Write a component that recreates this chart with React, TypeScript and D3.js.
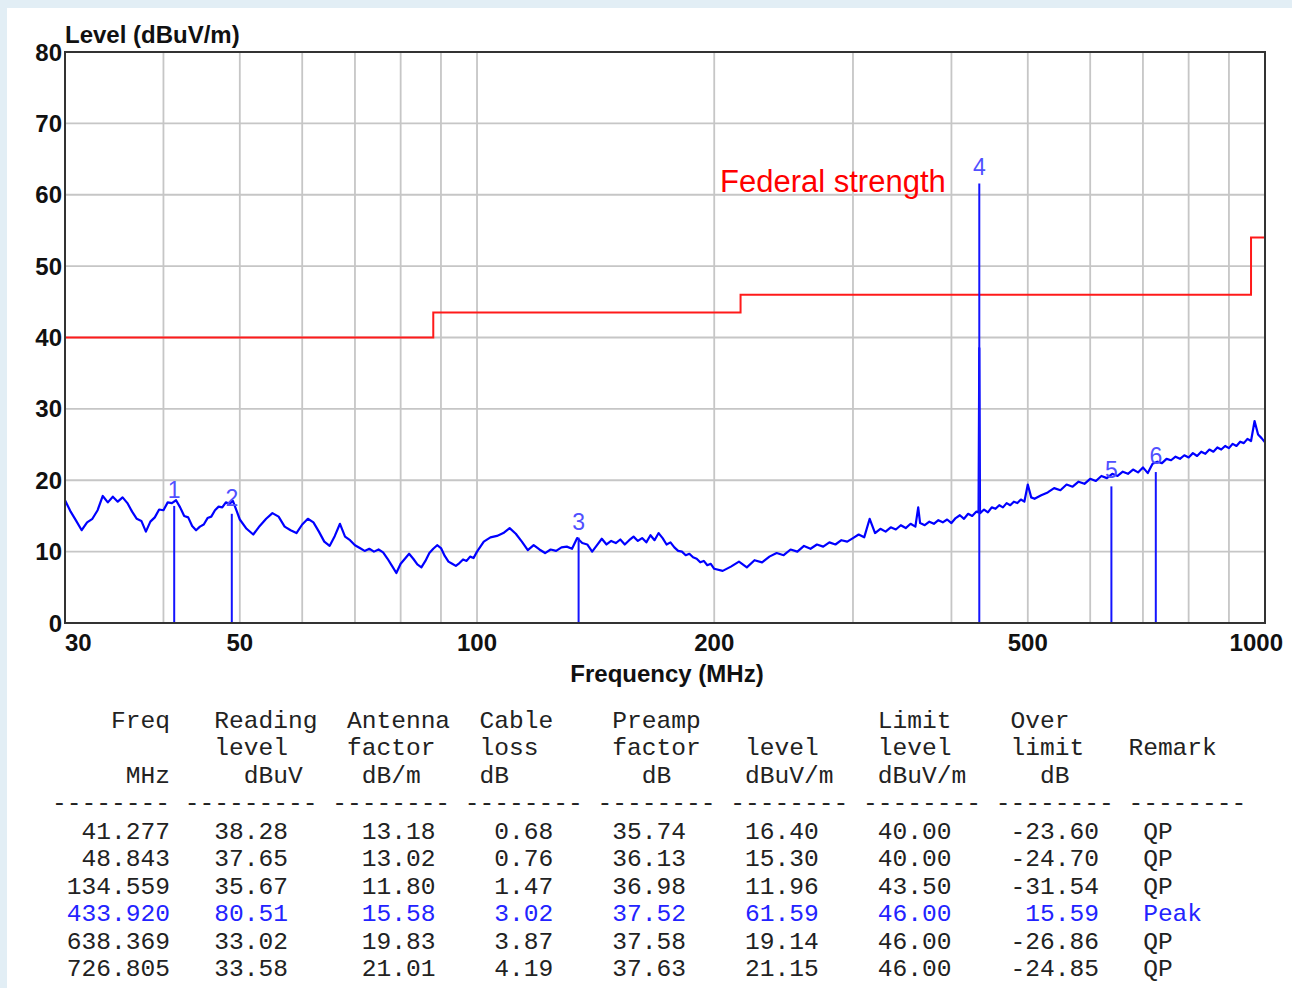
import * as d3 from 'd3';

// spectrum trace: [MHz, dBuV/m]
const trace: [number, number][] = [
  [30, 17.2], [30.5, 15.6], [31, 14.3], [31.5, 13.0], [32, 14.1], [32.5, 14.6], [33, 15.8], [33.5, 17.8],
  [34, 16.9], [34.5, 17.7], [35, 17.0], [35.5, 17.6], [36, 16.8], [36.5, 15.6], [37, 14.6], [37.5, 14.3],
  [38, 12.8], [38.5, 14.2], [39, 14.8], [39.5, 15.9], [40, 15.8], [40.5, 16.9], [41, 16.8], [41.5, 17.2],
  [42, 16.2], [42.5, 15.0], [43, 14.8], [43.5, 13.6], [44, 13.0], [44.5, 13.5], [45, 13.8], [45.5, 14.7],
  [46, 14.9], [46.5, 15.8], [47, 16.3], [47.5, 16.2], [48, 16.9], [48.5, 16.7], [49, 17.1], [49.5, 15.8],
  [50, 14.5], [51, 13.2], [52, 12.4], [53, 13.6], [54, 14.6], [55, 15.4], [56, 14.9], [57, 13.5],
  [58, 13.0], [59, 12.6], [60, 13.8], [61, 14.6], [62, 14.1], [63, 12.8], [64, 11.4], [65, 10.8],
  [66, 12.2], [67, 13.9], [68, 12.1], [69, 11.6], [70, 10.9], [71, 10.5], [72, 10.1], [73, 10.4],
  [74, 10.0], [75, 10.3], [76, 9.9], [77, 9.0], [78, 8.0], [79, 7.0], [80, 8.3], [81, 9.0],
  [82, 9.7], [83, 9.0], [84, 8.2], [85, 7.8], [86, 8.7], [87, 9.8], [88, 10.4], [89, 10.9],
  [90, 10.5], [91, 9.4], [92, 8.6], [93, 8.3], [94, 8.0], [95, 8.4], [96, 8.9], [97, 8.7],
  [98, 9.3], [99, 9.1], [100, 10.0], [102, 11.4], [104, 12.0], [106, 12.2], [108, 12.6], [110, 13.3],
  [112, 12.5], [114, 11.4], [116, 10.2], [118, 10.9], [120, 10.3], [122, 9.8], [124, 10.3], [126, 10.1],
  [128, 10.6], [130, 10.7], [132, 10.4], [134, 11.9], [136, 11.2], [138, 11.0], [140, 10.0], [142, 10.9],
  [144, 11.8], [146, 11.0], [148, 11.5], [150, 11.2], [152, 11.7], [154, 11.0], [156, 11.6], [158, 12.1],
  [160, 11.5], [162, 11.9], [164, 11.3], [166, 12.3], [168, 11.6], [170, 12.6], [172, 11.9], [174, 11.0],
  [176, 11.3], [178, 10.6], [180, 10.1], [182, 10.0], [184, 9.5], [186, 9.7], [188, 9.2], [190, 9.0],
  [192, 8.5], [194, 8.7], [196, 8.1], [198, 8.3], [200, 7.6], [205, 7.3], [210, 7.9], [215, 8.6],
  [220, 7.8], [225, 8.8], [230, 8.5], [235, 9.3], [240, 9.8], [245, 9.5], [250, 10.3], [255, 10.0],
  [260, 10.8], [265, 10.4], [270, 11.0], [275, 10.7], [280, 11.3], [285, 11.0], [290, 11.6], [295, 11.4],
  [300, 11.9], [305, 12.4], [310, 12.0], [315, 14.6], [320, 12.6], [325, 13.2], [330, 12.8], [335, 13.4],
  [340, 13.1], [345, 13.7], [350, 13.3], [355, 13.9], [360, 13.5], [363, 16.2], [365, 14.0], [370, 13.7],
  [375, 14.2], [380, 13.9], [385, 14.4], [390, 14.1], [395, 14.5], [400, 14.0], [405, 14.7], [410, 15.1],
  [415, 14.6], [420, 15.3], [425, 15.0], [430, 15.6], [433, 15.5], [433.92, 38.5], [434.8, 15.7], [435, 15.4],
  [440, 15.9], [445, 15.5], [450, 16.2], [455, 16.0], [460, 16.5], [465, 16.2], [470, 16.8], [475, 16.5],
  [480, 17.0], [485, 16.8], [490, 17.3], [495, 17.0], [500, 19.4], [505, 17.6], [510, 17.4], [520, 17.9],
  [530, 18.3], [540, 18.9], [550, 18.6], [560, 19.4], [570, 19.1], [580, 19.8], [590, 19.5], [600, 20.2],
  [610, 19.9], [620, 20.6], [630, 20.3], [640, 20.9], [650, 20.6], [660, 21.2], [670, 20.9], [680, 21.5],
  [690, 21.1], [700, 21.8], [710, 21.0], [720, 22.3], [730, 22.6], [740, 22.4], [750, 23.0], [760, 22.8],
  [770, 23.3], [780, 23.0], [790, 23.5], [800, 23.2], [810, 23.8], [820, 23.4], [830, 24.0], [840, 23.7],
  [850, 24.3], [860, 24.0], [870, 24.6], [880, 24.3], [890, 24.8], [900, 24.5], [910, 25.1], [920, 24.8],
  [930, 25.4], [940, 25.2], [950, 25.8], [960, 25.5], [970, 28.3], [980, 26.4], [990, 25.9], [1000, 25.3],
];

const limitMHz = [30, 88, 216, 960, 1000];
const limitDb = [40, 43.5, 46, 54, 54];

const markerNo = ['1', '2', '3', '4', '5', '6'];
const markerMHz = [41.277, 48.843, 134.559, 433.92, 638.369, 726.805];
const markerDb = [16.4, 15.3, 11.96, 61.59, 19.14, 21.15];

const xTickLabels = [30, 50, 100, 200, 500, 1000];
const xGrid = [40, 50, 60, 70, 80, 90, 100, 200, 300, 400, 500, 600, 700, 800, 900];
const yTicks = [0, 10, 20, 30, 40, 50, 60, 70, 80];

// table columns
const colFreq = ['41.277', '48.843', '134.559', '433.920', '638.369', '726.805'];
const colReading = ['38.28', '37.65', '35.67', '80.51', '33.02', '33.58'];
const colAntenna = ['13.18', '13.02', '11.80', '15.58', '19.83', '21.01'];
const colCable = ['0.68', '0.76', '1.47', '3.02', '3.87', '4.19'];
const colPreamp = ['35.74', '36.13', '36.98', '37.52', '37.58', '37.63'];
const colLevel = ['16.40', '15.30', '11.96', '61.59', '19.14', '21.15'];
const colLimit = ['40.00', '40.00', '43.50', '46.00', '46.00', '46.00'];
const colOver = ['-23.60', '-24.70', '-31.54', '15.59', '-26.86', '-24.85'];
const colRemark = ['QP', 'QP', 'QP', 'Peak', 'QP', 'QP'];
const highlightRow = 3;

const SANS = "'Liberation Sans', Arial, sans-serif";
const MONO = "'Liberation Mono', monospace";

type Cell = [string, number, 'l' | 'r'];

function layoutLine(cells: Cell[]) {
  const chars: string[] = Array(84).fill(' ');
  cells.forEach(([t, c, a]) => {
    const s = a === 'r' ? c - t.length : c;
    for (let i = 0; i < t.length; i++) chars[s + i] = t[i];
  });
  return chars.join('').replace(/\s+$/, '');
}

export default function App() {
  const W = 1292;
  const H = 988;
  const left = 65, right = 1265, top = 52, bottom = 623;

  const x = d3.scaleLog().domain([30, 1000]).range([left, right]);
  const y = d3.scaleLinear().domain([0, 80]).range([bottom, top]);

  const traceLine = d3.line<[number, number]>()
    .x(d => x(d[0]))
    .y(d => y(d[1]));

  const limitLine = d3.line<number>()
    .x((d, i) => x(limitMHz[i]))
    .y(d => y(d))
    .curve(d3.curveStepAfter);

  const headerLines = [
    layoutLine([['Freq', 8, 'r'], ['Reading', 11, 'l'], ['Antenna', 20, 'l'], ['Cable', 29, 'l'],
      ['Preamp', 38, 'l'], ['Limit', 56, 'l'], ['Over', 65, 'l']]),
    layoutLine([['level', 11, 'l'], ['factor', 20, 'l'], ['loss', 29, 'l'], ['factor', 38, 'l'],
      ['level', 47, 'l'], ['level', 56, 'l'], ['limit', 65, 'l'], ['Remark', 73, 'l']]),
    layoutLine([['MHz', 8, 'r'], ['dBuV', 13, 'l'], ['dB/m', 21, 'l'], ['dB', 29, 'l'],
      ['dB', 40, 'l'], ['dBuV/m', 47, 'l'], ['dBuV/m', 56, 'l'], ['dB', 67, 'l']]),
  ];
  const dashLine = layoutLine([
    ['--------', 0, 'l'], ['---------', 9, 'l'], ['--------', 19, 'l'], ['--------', 28, 'l'],
    ['--------', 37, 'l'], ['--------', 46, 'l'], ['--------', 55, 'l'], ['--------', 64, 'l'],
    ['--------', 73, 'l'],
  ]);
  const dataLines = colFreq.map((f, i) => layoutLine([
    [f, 8, 'r'], [colReading[i], 16, 'r'], [colAntenna[i], 26, 'r'], [colCable[i], 34, 'r'],
    [colPreamp[i], 43, 'r'], [colLevel[i], 52, 'r'], [colLimit[i], 61, 'r'], [colOver[i], 71, 'r'],
    [colRemark[i], 74, 'l'],
  ]));

  const tableX = 52;
  const fontPx = 24;
  const charScale = 14.75 / (fontPx * 0.6);

  return (
    <svg width={W} height={H} style={{ position: 'absolute', left: 0, top: 0 }}>
      <rect x={0} y={0} width={W} height={H} fill="#e2eef5" />
      <rect x={7} y={8} width={W - 7} height={H - 8} fill="#ffffff" />

      {/* grid */}
      <g stroke="#c6c6c6" strokeWidth={1.8}>
        {xGrid.map(f => (
          <line key={'gx' + f} x1={x(f)} x2={x(f)} y1={top} y2={bottom} />
        ))}
        {yTicks.slice(1, -1).map(v => (
          <line key={'gy' + v} x1={left} x2={right} y1={y(v)} y2={y(v)} />
        ))}
      </g>

      {/* limit */}
      <path d={limitLine(limitDb) || ''} fill="none" stroke="#ff1a1a" strokeWidth={2} />
      <text x={720} y={192} fontFamily={SANS} fontSize={31} fill="#ff0000">Federal strength</text>

      {/* trace */}
      <path d={traceLine(trace) || ''} fill="none" stroke="#0000ff" strokeWidth={2.2} strokeLinejoin="round" />

      {/* markers */}
      {markerMHz.map((f, i) => (
        <g key={'m' + i}>
          <line x1={x(f)} x2={x(f)} y1={y(0)} y2={y(markerDb[i])} stroke="#1414ff" strokeWidth={2} />
          <text x={x(f)} y={y(markerDb[i]) - 8} textAnchor="middle" fontFamily={SANS} fontSize={23}
            fill="#5050ff">{markerNo[i]}</text>
        </g>
      ))}

      {/* frame */}
      <rect x={left} y={top} width={right - left} height={bottom - top} fill="none" stroke="#333" strokeWidth={2} />

      {/* y axis labels */}
      {yTicks.map(v => (
        <text key={'yl' + v} x={62} y={y(v) + 8.5} textAnchor="end" fontFamily={SANS} fontWeight="bold"
          fontSize={24} fill="#111">{v}</text>
      ))}
      {/* x axis labels */}
      {xTickLabels.map((f, i) => {
        const first = i === 0;
        const last = i === xTickLabels.length - 1;
        return (
          <text key={'xl' + f} x={first ? x(f) : last ? x(f) + 18 : x(f)} y={651}
            textAnchor={first ? 'start' : last ? 'end' : 'middle'} fontFamily={SANS} fontWeight="bold"
            fontSize={24} fill="#111">{f}</text>
        );
      })}

      <text x={left} y={43} fontFamily={SANS} fontWeight="bold" fontSize={24} fill="#111">Level (dBuV/m)</text>
      <text x={667} y={682} textAnchor="middle" fontFamily={SANS} fontWeight="bold"
        fontSize={24} fill="#111">Frequency (MHz)</text>

      {/* results table */}
      <g transform={`translate(${tableX},0) scale(${charScale},1)`} fontFamily={MONO} fontSize={fontPx}
        style={{ whiteSpace: 'pre' }}>
        {headerLines.map((l, i) => (
          <text key={'h' + i} x={0} y={728 + i * 27.3} fill="#222" xmlSpace="preserve">{l}</text>
        ))}
        <text x={0} y={810} fill="#222" xmlSpace="preserve">{dashLine}</text>
        {dataLines.map((l, i) => (
          <text key={'d' + i} x={0} y={839 + i * 27.4} fill={i === highlightRow ? '#2323ff' : '#222'}
            xmlSpace="preserve">{l}</text>
        ))}
      </g>
    </svg>
  );
}
